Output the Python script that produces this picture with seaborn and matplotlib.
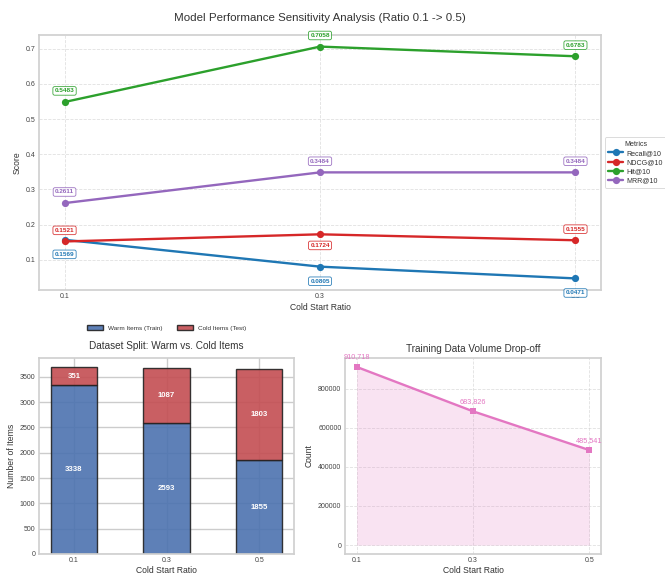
import numpy as np
import pandas as pd
import matplotlib
matplotlib.use("Agg")
import matplotlib.pyplot as plt
from matplotlib.patches import Patch
import seaborn as sns

# ---- data ----
ratios = [0.1, 0.3, 0.5]
ratio_labels = ["0.1", "0.3", "0.5"]
recall = [0.1569, 0.0805, 0.0471]
ndcg = [0.1521, 0.1724, 0.1555]
hit = [0.5483, 0.7058, 0.6783]
mrr = [0.2611, 0.3484, 0.3484]
metric_names = ["Recall@10", "NDCG@10", "Hit@10", "MRR@10"]
warm_items = [3338, 2593, 1855]
cold_items = [351, 1087, 1803]
train_interactions = [910718, 683826, 485541]

sns.set_theme(style="whitegrid")
plt.rcParams["font.family"] = ["Liberation Sans", "DejaVu Sans"]
plt.rcParams["axes.edgecolor"] = "#d0d0d0"
plt.rcParams["text.color"] = "#333333"
plt.rcParams["axes.labelcolor"] = "#333333"
plt.rcParams["xtick.color"] = "#444444"
plt.rcParams["ytick.color"] = "#444444"

TICK = 5.0
LABEL = 6.2
TITLE = 7.2

palette = {"Recall@10": "#1f77b4", "NDCG@10": "#d62728",
           "Hit@10": "#2ca02c", "MRR@10": "#9467bd"}

fig = plt.figure(figsize=(6.65, 5.74), dpi=100)
W, H = 665, 574


def box(l, t, r, b):
    return [l / W, 1 - b / H, (r - l) / W, (b - t) / H]


def style_ticks(ax):
    ax.tick_params(axis="x", labelsize=TICK, length=0, pad=2.2)
    ax.tick_params(axis="y", labelsize=TICK, length=0, pad=2.6)


ax_top = fig.add_axes(box(39, 35, 601, 290))
ax_bar = fig.add_axes(box(39, 358, 294, 554))
ax_vol = fig.add_axes(box(345, 358, 601, 554))

# ---- metrics vs. cold start ratio ----
metrics_df = pd.DataFrame({
    "ratio": ratios * 4,
    "score": recall + ndcg + hit + mrr,
    "metric": np.repeat(metric_names, len(ratios)),
})
sns.lineplot(data=metrics_df, x="ratio", y="score", hue="metric",
             palette=palette, marker="o", markersize=5.2, markeredgewidth=0,
             linewidth=1.7, ax=ax_top, legend=True)

# vertical label offsets in points (positive = above the point)
label_offsets = {
    "Recall@10": [-10.5, -10.5, -10.5],
    "NDCG@10": [8, -8, 8],
    "Hit@10": [8, 8, 8],
    "MRR@10": [8, 8, 8],
}
for name, vals in zip(metric_names, [recall, ndcg, hit, mrr]):
    col = palette[name]
    for x, v, dy in zip(ratios, vals, label_offsets[name]):
        ax_top.annotate(f"{v:.4f}", (x, v), xytext=(0, dy),
                        textcoords="offset points", ha="center", va="center",
                        fontsize=4.6, fontweight="bold", color=col,
                        bbox=dict(boxstyle="round,pad=0.28", fc="white",
                                  ec=col, lw=0.6, alpha=0.9))

ax_top.set_xticks(ratios)
ax_top.set_xticklabels(ratio_labels)
ax_top.set_yticks([0.1, 0.2, 0.3, 0.4, 0.5, 0.6, 0.7])
style_ticks(ax_top)
ax_top.grid(True, linestyle="--", linewidth=0.6, alpha=0.6)
ax_top.set_xlabel("Cold Start Ratio", fontsize=LABEL, labelpad=2)
ax_top.set_ylabel("Score", fontsize=LABEL, labelpad=2.5)
ax_top.set_title("Model Performance Sensitivity Analysis (Ratio 0.1 -> 0.5)",
                 fontsize=8.25, pad=10)
leg = ax_top.legend(title="Metrics", loc="center left",
                    bbox_to_anchor=(1.0, 0.5), fontsize=5.1,
                    title_fontsize=5.1, frameon=True, borderpad=0.5,
                    handlelength=2.1, handletextpad=0.5, labelspacing=0.3)
leg.get_frame().set_edgecolor("#cccccc")
leg.get_frame().set_linewidth(0.6)

# ---- stacked bars: warm vs. cold items ----
split_df = pd.DataFrame({
    "ratio": ratio_labels,
    "warm": warm_items,
    "cold": cold_items,
})
warm_color = "#4c72b0"
cold_color = "#c44e52"
sns.barplot(data=split_df, x="ratio", y="warm", color=warm_color, alpha=0.9,
            width=0.5, edgecolor="#222222", linewidth=1.0, ax=ax_bar,
            saturation=1)
sns.barplot(data=split_df, x="ratio", y="cold", bottom=split_df["warm"].to_numpy(),
            color=cold_color, alpha=0.9, width=0.5, edgecolor="#222222",
            linewidth=1.0, ax=ax_bar, saturation=1)
for i, (w, c) in enumerate(zip(warm_items, cold_items)):
    ax_bar.text(i, w / 2, f"{w}", ha="center", va="center", color="white",
                fontsize=5.6, fontweight="bold")
    ax_bar.text(i, w + c / 2, f"{c}", ha="center", va="center", color="white",
                fontsize=5.6, fontweight="bold")
ax_bar.set_xlim(-0.375, 2.375)
ax_bar.set_ylim(0, 3872)
ax_bar.set_yticks(np.arange(0, 3501, 500))
ax_bar.xaxis.grid(True)
ax_bar.set_axisbelow(True)
style_ticks(ax_bar)
ax_bar.set_xlabel("Cold Start Ratio", fontsize=LABEL, labelpad=1.5)
ax_bar.set_ylabel("Number of Items", fontsize=LABEL, labelpad=2.8)
ax_bar.set_title("Dataset Split: Warm vs. Cold Items", fontsize=TITLE, pad=6.5)
fig.legend(handles=[Patch(fc=warm_color, ec="#222222", alpha=0.9, label="Warm Items (Train)"),
                    Patch(fc=cold_color, ec="#222222", alpha=0.9, label="Cold Items (Test)")],
           loc="center", bbox_to_anchor=(166.5 / W, 1 - 328 / H), ncol=2,
           frameon=False, fontsize=4.6, handlelength=2.5, handleheight=0.9,
           handletextpad=0.8, columnspacing=2.2)

# ---- training interactions ----
vol_df = pd.DataFrame({"ratio": ratios, "count": train_interactions})
pink = "#e377c2"
sns.lineplot(data=vol_df, x="ratio", y="count", color=pink, marker="s",
             markersize=4.3, markeredgewidth=0, linewidth=1.7, ax=ax_vol)
ax_vol.fill_between(ratios, train_interactions, color=pink, alpha=0.2, lw=0)
for x, v in zip(ratios, train_interactions):
    ax_vol.annotate(f"{v:,}", (x, v), xytext=(0, 7.2), textcoords="offset points",
                    ha="center", va="center", fontsize=5.2, color=pink)
ax_vol.set_xticks(ratios)
ax_vol.set_xticklabels(ratio_labels)
ax_vol.set_yticks(np.arange(0, 800001, 200000))
ax_vol.ticklabel_format(axis="y", style="plain")
style_ticks(ax_vol)
ax_vol.grid(True, linestyle="--", linewidth=0.6, alpha=0.6)
ax_vol.set_xlabel("Cold Start Ratio", fontsize=LABEL, labelpad=1.5)
ax_vol.set_ylabel("Count", fontsize=LABEL, labelpad=2.8)
ax_vol.set_title("Training Data Volume Drop-off", fontsize=TITLE, pad=4.5)

fig.savefig("out.png", dpi=100)
